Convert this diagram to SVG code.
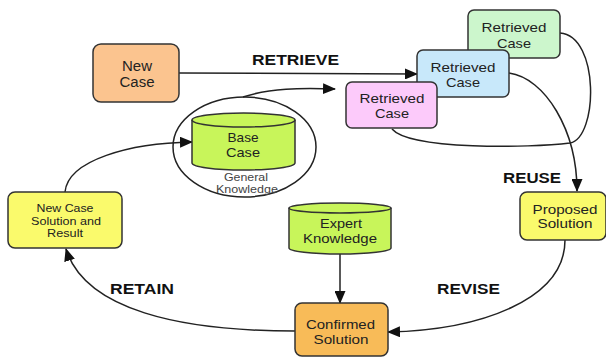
<svg xmlns="http://www.w3.org/2000/svg" width="606" height="358" viewBox="0 0 606 358">
<defs>
<style>
.box{stroke:#333;stroke-width:1.5}
.t{font-family:"Liberation Sans",Arial,sans-serif;font-size:13px;fill:#222;text-anchor:middle}
.g{font-family:"Liberation Sans",Arial,sans-serif;font-size:11px;fill:#444;text-anchor:middle}
.lbl{font-family:"Liberation Sans",Arial,sans-serif;font-size:14px;font-weight:bold;fill:#111}
.c{fill:none;stroke:#222;stroke-width:1.5}
</style>
<marker id="ah" markerWidth="13" markerHeight="11" refX="12" refY="5.5" orient="auto" markerUnits="userSpaceOnUse"><path d="M0,0 L13,5.5 L0,11 Z" fill="#111"/></marker>
</defs>
<rect width="606" height="358" fill="#fff"/>

<g id="connectors">
<path class="c" d="M179,73 L417,74" marker-end="url(#ah)"/>
<path class="c" d="M243,97 C 270,88 300,88 335,89" marker-end="url(#ah)"/>
<path class="c" d="M560,33 C 600,36 598,138 570,143 C 530,148 410,150 392,129"/>
<path class="c" d="M509,73 C 545,78 577,130 577,191" marker-end="url(#ah)"/>
<path class="c" d="M565,240 C 565,300 480,330 388,332" marker-end="url(#ah)"/>
<path class="c" d="M340,254 L340,303" marker-end="url(#ah)"/>
<path class="c" d="M295,331 C 180,331 85,310 66,249" marker-end="url(#ah)"/>
<path class="c" d="M65,192 C 68,160 130,143 192,142" marker-end="url(#ah)"/>
<ellipse cx="244.5" cy="147" rx="71.5" ry="50" class="c"/>
</g>

<g id="labels">
<text class="lbl" x="252" y="65" textLength="87" lengthAdjust="spacingAndGlyphs">RETRIEVE</text>
<text class="lbl" x="503" y="183" textLength="58" lengthAdjust="spacingAndGlyphs">REUSE</text>
<text class="lbl" x="437" y="294" textLength="63" lengthAdjust="spacingAndGlyphs">REVISE</text>
<text class="lbl" x="110" y="294" textLength="64" lengthAdjust="spacingAndGlyphs">RETAIN</text>
</g>

<g id="new-case">
<rect class="box" x="93" y="44" width="86" height="58" rx="8" fill="#fbc48f"/>
<text class="t" style="font-size:14px" x="137" y="71" textLength="30" lengthAdjust="spacingAndGlyphs">New</text>
<text class="t" style="font-size:14px" x="137" y="87" textLength="35" lengthAdjust="spacingAndGlyphs">Case</text>
</g>

<g id="retrieved-case-3">
<rect class="box" x="468" y="10" width="92" height="48" rx="6" fill="#ccf6cc"/>
<text class="t" x="514" y="32" textLength="65" lengthAdjust="spacingAndGlyphs">Retrieved</text>
<text class="t" x="514" y="48" textLength="34" lengthAdjust="spacingAndGlyphs">Case</text>
</g>

<g id="retrieved-case-2">
<rect class="box" x="417" y="50" width="92" height="47" rx="6" fill="#c8e8fa"/>
<text class="t" x="463" y="72" textLength="65" lengthAdjust="spacingAndGlyphs">Retrieved</text>
<text class="t" x="463" y="87" textLength="34" lengthAdjust="spacingAndGlyphs">Case</text>
</g>

<g id="retrieved-case-1">
<rect class="box" x="346" y="82" width="91" height="46" rx="6" fill="#fccafa"/>
<text class="t" x="392" y="103" textLength="65" lengthAdjust="spacingAndGlyphs">Retrieved</text>
<text class="t" x="392" y="118" textLength="34" lengthAdjust="spacingAndGlyphs">Case</text>
</g>

<g id="base-case">
<path class="box" d="M192,120 L192,163 A51.5,7 0 0 0 295,163 L295,120 A51.5,7 0 0 0 192,120 Z" fill="#c8f55a"/>
<path class="box" d="M192,120 A51.5,7 0 0 0 295,120" fill="none"/>
<text class="t" x="243" y="142" textLength="31" lengthAdjust="spacingAndGlyphs">Base</text>
<text class="t" x="243" y="157" textLength="34" lengthAdjust="spacingAndGlyphs">Case</text>
<text class="g" x="246" y="181" textLength="44" lengthAdjust="spacingAndGlyphs">General</text>
<text class="g" x="247" y="193" textLength="62" lengthAdjust="spacingAndGlyphs">Knowledge</text>
</g>

<g id="new-case-solution">
<rect class="box" x="8" y="192" width="114" height="56" rx="7" fill="#fafa6c"/>
<text class="t" style="font-size:11px" x="65" y="212" textLength="57" lengthAdjust="spacingAndGlyphs">New Case</text>
<text class="t" style="font-size:11px" x="66" y="225" textLength="70" lengthAdjust="spacingAndGlyphs">Solution and</text>
<text class="t" style="font-size:11px" x="65" y="237" textLength="36" lengthAdjust="spacingAndGlyphs">Result</text>
</g>

<g id="proposed-solution">
<rect class="box" x="520" y="192" width="86" height="48" rx="7" fill="#fafa6c"/>
<text class="t" x="565" y="214" textLength="65" lengthAdjust="spacingAndGlyphs">Proposed</text>
<text class="t" x="565" y="228" textLength="55" lengthAdjust="spacingAndGlyphs">Solution</text>
</g>

<g id="expert-knowledge">
<path class="box" d="M289,208 L289,248 A51,6 0 0 0 391,248 L391,208 A51,5 0 0 0 289,208 Z" fill="#c8f55a"/>
<path class="box" d="M289,208 A51,5 0 0 0 391,208" fill="none"/>
<text class="t" x="341" y="228" textLength="42" lengthAdjust="spacingAndGlyphs">Expert</text>
<text class="t" x="340" y="243" textLength="74" lengthAdjust="spacingAndGlyphs">Knowledge</text>
</g>

<g id="confirmed-solution">
<rect class="box" x="295" y="303" width="93" height="53" rx="7" fill="#f8bb58"/>
<text class="t" x="340.5" y="329" textLength="69" lengthAdjust="spacingAndGlyphs">Confirmed</text>
<text class="t" x="341" y="344" textLength="55" lengthAdjust="spacingAndGlyphs">Solution</text>
</g>
</svg>
